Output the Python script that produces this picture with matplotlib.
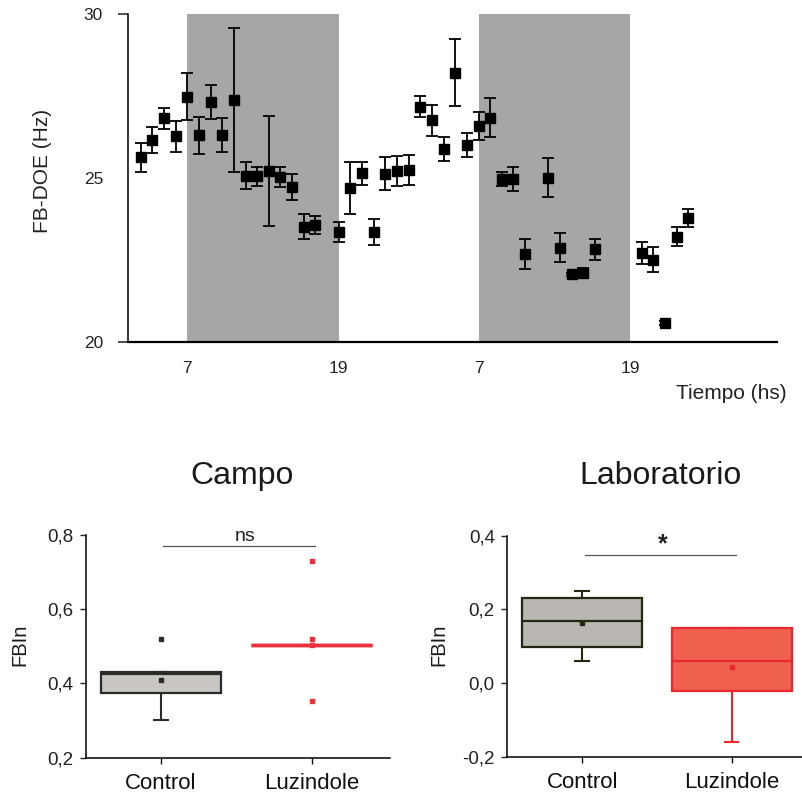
import numpy as np
import matplotlib
matplotlib.use('Agg')
import matplotlib.pyplot as plt

plt.rcParams['font.family'] = ['Liberation Sans', 'DejaVu Sans']

# ---- top panel: FB-DOE over time (sample index) ----
sample = [0, 1, 2, 3, 4, 5, 6, 7, 8, 9, 10, 11, 12, 13, 14, 15,
          17, 18, 19, 20, 21, 22, 23, 24, 25, 26, 27, 28, 29, 30, 31, 32, 33,
          35, 36, 37, 38, 39, 43, 44, 45, 46, 47]
fbdoe = [25.63, 26.16, 26.82, 26.28, 27.48, 26.31, 27.32, 26.32, 27.37, 25.07,
         25.05, 25.22, 25.04, 24.72, 23.52, 23.57,
         23.36, 24.69, 25.14, 23.36, 25.13, 25.22, 25.24, 27.18, 26.76, 25.89,
         28.22, 26.01, 26.60, 26.84, 24.96, 24.97, 22.68,
         25.01, 22.87, 22.06, 22.11, 22.82, 22.70, 22.50, 20.57, 23.21, 23.78]
fbdoe_err = [0.44, 0.39, 0.31, 0.47, 0.72, 0.57, 0.52, 0.51, 2.20, 0.41,
             0.30, 1.69, 0.30, 0.40, 0.37, 0.27,
             0.30, 0.80, 0.34, 0.40, 0.51, 0.45, 0.45, 0.32, 0.48, 0.37,
             1.02, 0.37, 0.43, 0.60, 0.21, 0.37, 0.46,
             0.60, 0.44, 0.05, 0.15, 0.31, 0.34, 0.38, 0.05, 0.28, 0.27]
light_spans = [(4, 17), (29, 42)]
time_ticks = [4, 17, 29, 42]
time_labels = ['7', '19', '7', '19']

# ---- bottom panels: box stats ----
groups = ['Control', 'Luzindole']
campo_q1 = [0.373, 0.503]
campo_med = [0.425, 0.503]
campo_q3 = [0.430, 0.503]
campo_wlo = [0.302, 0.503]
campo_whi = [0.430, 0.503]
campo_mean = [0.409, 0.503]
campo_fliers = [[0.52], [0.73, 0.519, 0.353]]

lab_q1 = [0.099, -0.021]
lab_med = [0.170, 0.060]
lab_q3 = [0.230, 0.150]
lab_wlo = [0.060, -0.160]
lab_whi = [0.251, 0.150]
lab_mean = [0.164, 0.043]
lab_fliers = [[], []]

fig = plt.figure(figsize=(8.02, 7.94), dpi=100)

ax = fig.add_axes([0.160, 0.5696, 0.8085, 0.4123])
for a, b in light_spans:
    ax.axvspan(a, b, color='#a6a6a6', lw=0, zorder=0)
ax.errorbar(sample, fbdoe, yerr=fbdoe_err, fmt='s', color='k', ms=7,
            capsize=4.5, elinewidth=1.3, capthick=1.3, zorder=3)
ax.set_xlim(-1.06, 54.6)
ax.set_ylim(20, 30)
ax.set_xticks(time_ticks)
ax.set_xticklabels(time_labels)
ax.set_yticks([20, 25, 30])
ax.tick_params(axis='x', length=0, pad=14, labelsize=12.5, colors='#222222')
ax.tick_params(axis='y', length=7.2, width=1.1, pad=11, labelsize=12.5,
               colors='#222222')
ax.yaxis.get_major_ticks()[1].tick1line.set_visible(False)
for s in ['top', 'right']:
    ax.spines[s].set_visible(False)
ax.spines['left'].set_linewidth(1.1)
ax.spines['bottom'].set_linewidth(1.6)
fig.text(0.053, 0.785, 'FB-DOE (Hz)', rotation=90, ha='center', va='center',
         fontsize=15, color='#222222')
fig.text(0.981, 0.505, 'Tiempo (hs)', ha='right', va='center', fontsize=15,
         color='#222222')


def make_stats(q1, med, q3, wlo, whi, mean, fliers):
    out = []
    for i in range(len(groups)):
        out.append(dict(label=groups[i], q1=q1[i], med=med[i], q3=q3[i],
                        whislo=wlo[i], whishi=whi[i], mean=mean[i],
                        fliers=fliers[i]))
    return out


def draw_box(ax, stats, faces, edges, lws):
    bp = ax.bxp(stats, positions=[0, 1], widths=0.8, capwidths=0.09,
                patch_artist=True, showmeans=True, showfliers=True)
    for i in range(len(stats)):
        bp['boxes'][i].set_facecolor(faces[i])
        bp['boxes'][i].set_edgecolor(edges[i])
        bp['boxes'][i].set_linewidth(lws[i])
        bp['medians'][i].set_color(edges[i])
        bp['medians'][i].set_linewidth(lws[i])
        for w in bp['whiskers'][2 * i:2 * i + 2]:
            w.set_color(edges[i])
            w.set_linewidth(1.5)
        for c in bp['caps'][2 * i:2 * i + 2]:
            c.set_color(edges[i])
            c.set_linewidth(1.5)
        bp['means'][i].set(marker='s', markersize=3.5, markerfacecolor=edges[i],
                           markeredgecolor=edges[i])
        bp['fliers'][i].set(marker='s', markersize=3, markerfacecolor=edges[i],
                            markeredgecolor=edges[i])


def style(ax, yticks, ylabels, ylim):
    ax.set_xlim(-0.5, 1.52)
    ax.set_ylim(*ylim)
    ax.set_yticks(yticks)
    ax.set_yticklabels(ylabels)
    ax.set_xticks([0, 1])
    ax.set_xticklabels(groups)
    ax.tick_params(axis='y', length=4, width=1, pad=5, labelsize=13.5,
                   colors='#222222')
    ax.tick_params(axis='x', length=4, width=1, pad=7, labelsize=16,
                   colors='#111111')
    for s in ['top', 'right']:
        ax.spines[s].set_visible(False)
    ax.spines['left'].set_linewidth(1.1)
    ax.spines['bottom'].set_linewidth(1.1)


# Campo
ax2 = fig.add_axes([0.1069, 0.0457, 0.3794, 0.2805])
draw_box(ax2, make_stats(campo_q1, campo_med, campo_q3, campo_wlo, campo_whi,
                         campo_mean, campo_fliers),
         ['#c9c6c1', '#e8323c'], ['#2b2b2b', '#e8323c'], [1.6, 2.5])
style(ax2, [0.2, 0.4, 0.6, 0.8], ['0,2', '0,4', '0,6', '0,8'], (0.2, 0.8))
ax2.plot([0.01, 1.02], [0.77, 0.77], color='#555555', lw=0.9)
ax2.text(0.557, 0.797, 'ns', ha='center', va='center', fontsize=14,
         color='#222222')

# Laboratorio
ax3 = fig.add_axes([0.6326, 0.0466, 0.3675, 0.2787])
draw_box(ax3, make_stats(lab_q1, lab_med, lab_q3, lab_wlo, lab_whi,
                         lab_mean, lab_fliers),
         ['#bab6b1', '#f0604f'], ['#232811', '#e8282d'], [1.6, 1.6])
style(ax3, [-0.2, 0.0, 0.2, 0.4], ['-0,2', '0,0', '0,2', '0,4'], (-0.2, 0.4))
ax3.set_xlim(-0.5, 1.47)
ax3.plot([0.02, 1.03], [0.348, 0.348], color='#555555', lw=0.9)
ax3.text(0.536, 0.378, '*', ha='center', va='center', fontsize=18,
         fontweight='bold', color='#222222')

fig.text(0.302, 0.4005, 'Campo', ha='center', va='center', fontsize=23,
         color='#1a1a1a')
fig.text(0.824, 0.4005, 'Laboratorio', ha='center', va='center', fontsize=23,
         color='#1a1a1a')
fig.text(0.0249, 0.1877, 'FBIn', rotation=90, ha='center', va='center',
         fontsize=14.5, color='#1a1a1a')
fig.text(0.5468, 0.1877, 'FBIn', rotation=90, ha='center', va='center',
         fontsize=14.5, color='#1a1a1a')

fig.savefig('out.png', dpi=100)
